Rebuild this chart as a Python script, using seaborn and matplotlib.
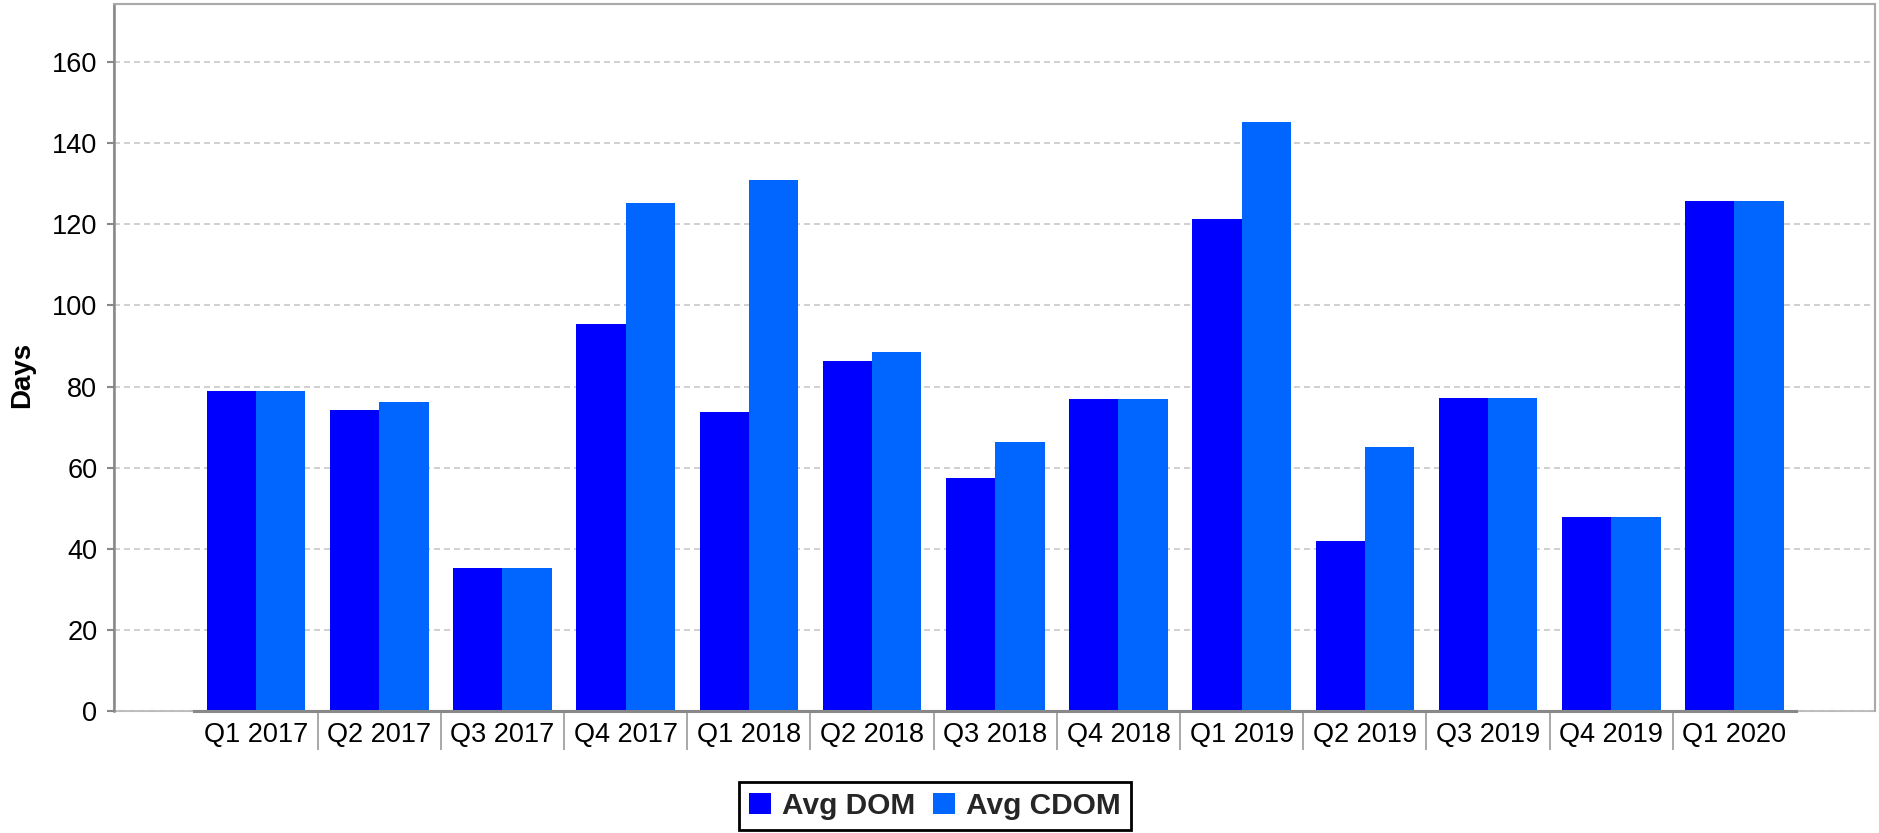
import matplotlib
matplotlib.use("Agg")
import matplotlib.pyplot as plt
from matplotlib.ticker import FixedLocator
import seaborn as sns
import pandas as pd

quarters = ["Q1 2017", "Q2 2017", "Q3 2017", "Q4 2017", "Q1 2018", "Q2 2018",
            "Q3 2018", "Q4 2018", "Q1 2019", "Q2 2019", "Q3 2019", "Q4 2019", "Q1 2020"]
avg_dom = [79.0, 74.1, 35.3, 95.5, 73.6, 86.4, 57.5, 76.8, 121.4, 42.0, 77.2, 47.9, 125.8]
avg_cdom = [79.0, 76.3, 35.3, 125.3, 130.8, 88.4, 66.2, 76.8, 145.3, 65.2, 77.2, 47.9, 125.8]
series_names = ["Avg DOM", "Avg CDOM"]
colors = ["#0000FF", "#0066FF"]
y_ticks = [0, 20, 40, 60, 80, 100, 120, 140, 160]

df = pd.DataFrame({
    "Quarter": quarters * 2,
    "Days": avg_dom + avg_cdom,
    "Series": [series_names[0]] * len(quarters) + [series_names[1]] * len(quarters),
})

sns.set_style("white")
plt.rcParams["font.family"] = ["Liberation Sans", "DejaVu Sans"]

W, H = 1879, 833
fig = plt.figure(figsize=(W / 100, H / 100), dpi=100)
ax = fig.add_axes([114 / W, 1 - 711 / H, (1875 - 114) / W, (711 - 4) / H])

sns.barplot(data=df, x="Quarter", y="Days", hue="Series", palette=colors,
            saturation=1, width=0.8, linewidth=0, ax=ax, zorder=3)

ax.set_xlim(-1.153, 13.141)
ax.set_ylim(0, 174.3)

# grid
ax.yaxis.set_major_locator(FixedLocator(y_ticks))
ax.grid(axis="y", color="#c8c8c8", linewidth=1.2, linestyle=(0, (3.6, 2.4)), zorder=0)
ax.grid(axis="x", visible=False)
ax.set_axisbelow(True)

# frame
for s in ["top", "right"]:
    ax.spines[s].set_visible(True)
    ax.spines[s].set_color("#aaaaaa")
    ax.spines[s].set_linewidth(1.5)
ax.spines["left"].set_color("#888888")
ax.spines["left"].set_linewidth(1.8)
ax.spines["bottom"].set_color("#888888")
ax.spines["bottom"].set_linewidth(2.2)
ax.spines["bottom"].set_bounds(-0.5, len(quarters) - 0.5)
ax.spines["bottom"].set_zorder(5)
ax.patch.set_edgecolor("#bbbbbb")
ax.patch.set_linewidth(1.5)

# ticks
ax.tick_params(axis="y", which="major", direction="out", length=5, width=1.5,
               color="#888888", labelsize=19.5, pad=7, left=True, labelcolor="black")
ax.tick_params(axis="x", which="major", length=0, labelsize=19.5, pad=8, labelcolor="black")
ax.xaxis.set_minor_locator(FixedLocator([i + 0.5 for i in range(len(quarters) - 1)]))
ax.tick_params(axis="x", which="minor", direction="out", length=28, width=1.2,
               color="#999999", bottom=True)

ax.set_xlabel("")
ax.set_ylabel("Days", fontsize=20, fontweight="bold", color="black")
ax.yaxis.set_label_coords(-0.0449, 0.475)

handles, labels = ax.get_legend_handles_labels()
ax.get_legend().remove()
leg = fig.legend(handles, labels, loc="lower center", bbox_to_anchor=(935 / W, 0.004),
                 ncol=2, frameon=True, fancybox=False, framealpha=1,
                 prop={"weight": "bold", "size": 21.5},
                 handlelength=0.74, handleheight=0.74, handletextpad=0.37,
                 columnspacing=0.57, borderpad=0.33, borderaxespad=0)
leg.get_frame().set_edgecolor("black")
leg.get_frame().set_linewidth(2.0)

fig.savefig("out.png", dpi=100)
